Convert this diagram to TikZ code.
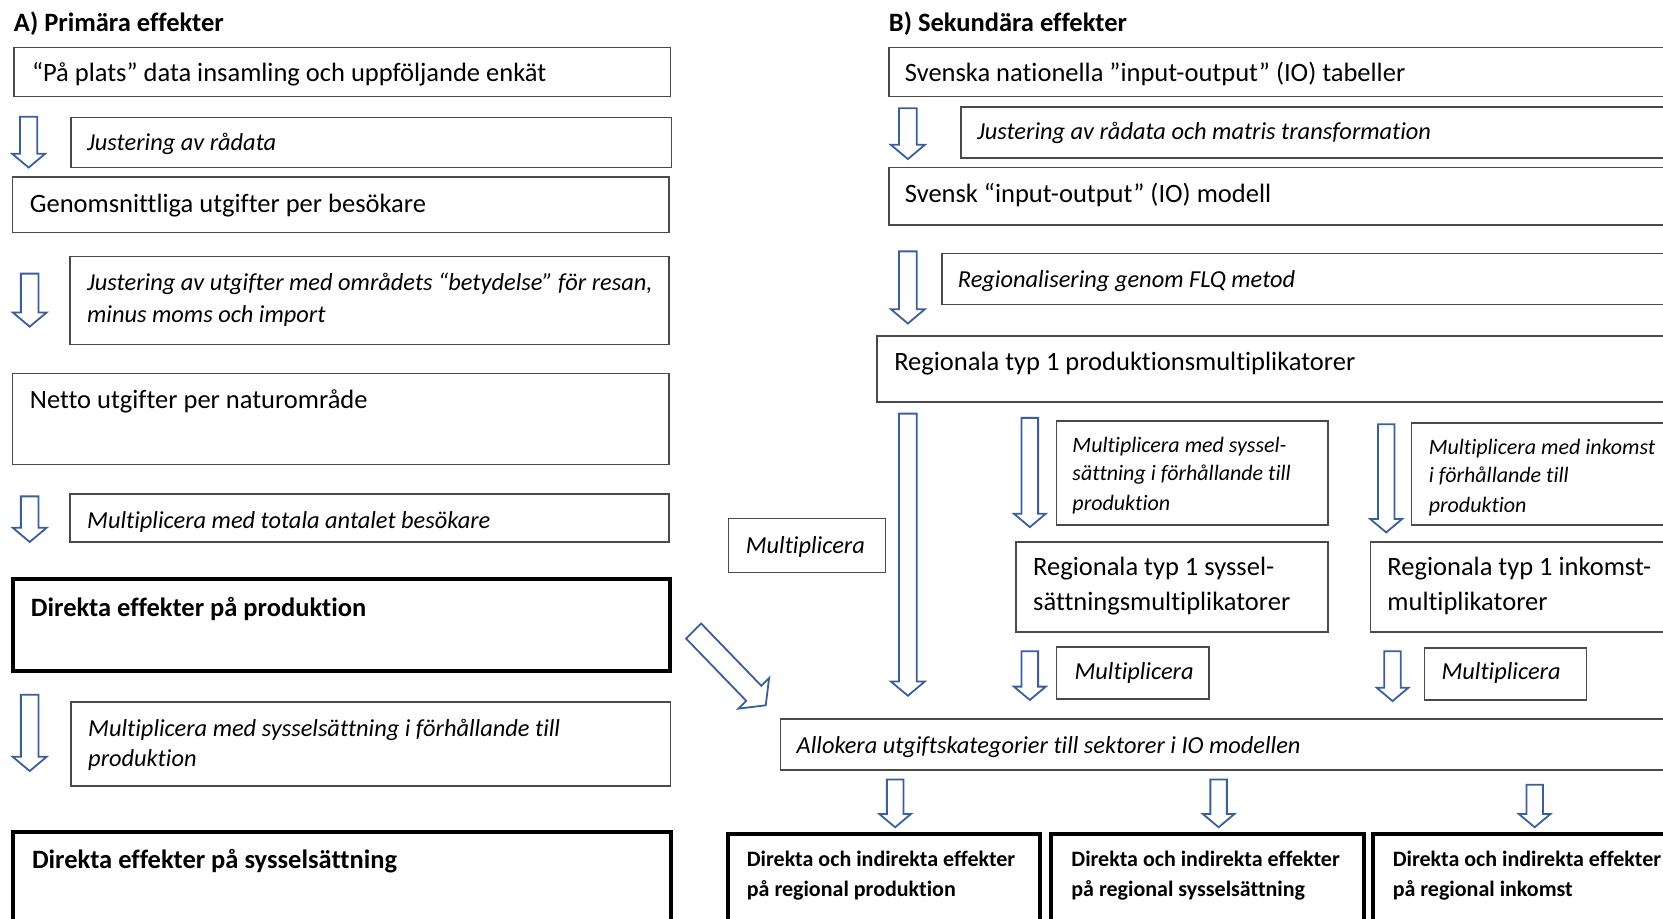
\documentclass[tikz,border=0pt]{standalone}
\usepackage{fontspec}
\setmainfont{Carlito}[Ligatures=NoCommon]
\usetikzlibrary{fit}
\definecolor{boxgray}{HTML}{4A4A4A}
\definecolor{arrowblue}{HTML}{3B5E9C}
\newcommand\fR{\fontsize{26.5}{32}\selectfont}
\newcommand\fI{\fontsize{24.4}{30}\selectfont\itshape}
\newcommand\fSI{\fontsize{22}{27}\selectfont\itshape}
\newcommand\fB{\fontsize{26.5}{32}\selectfont\bfseries}
\newcommand\fSB{\fontsize{22}{27}\selectfont\bfseries}
\newcommand\dnarrow[4]{%
 \pgfmathsetmacro\arHW{#4/2}\pgfmathsetmacro\arSW{#4*0.26}\pgfmathsetmacro\arHY{#3-#4*0.42}%
 \draw[blockarrow] ({#1-\arSW},#2) -- ({#1+\arSW},#2) -- ({#1+\arSW},\arHY) -- ({#1+\arHW},\arHY) -- (#1,#3) -- ({#1-\arHW},\arHY) -- ({#1-\arSW},\arHY) -- cycle;}
\tikzset{
 box/.style={draw=boxgray, line width=1.5pt, inner sep=0pt},
 tbox/.style={draw=black, line width=4pt, inner sep=0pt},
 txt/.style={inner sep=0pt, anchor=base west},
 blockarrow/.style={draw=arrowblue, line width=1.8pt, fill=white, line join=miter},
}
\begin{document}
\begin{tikzpicture}[x=1.0606pt, y=-1.0606pt]
\useasboundingbox (0,0) rectangle (1568,866);
\clip (0,0) rectangle (1568,866);
\fill[white] (0,0) rectangle (1568,866);

% ---------- A) Primary ----------
\node[txt] (tA) at (13,30) {\fB A) Primära effekter};

\node[box, fit={(13,45) (632,91)}] (L1) {};
\node[txt] (tL1) at (30,77) {\fR “På plats” data insamling och uppföljande enkät};
\dnarrow{27}{110}{158}{31}
\node[box, fit={(67,111) (633,158)}] (L2) {};
\node[txt] (tL2) at (82,142) {\fI Justering av rådata};
\node[box, fit={(12,167) (631,219)}] (L3) {};
\node[txt] (tL3) at (28,200) {\fR Genomsnittliga utgifter per besökare};
\dnarrow{28}{258}{308}{32}
\node[box, fit={(66,242) (631,325)}] (L4) {};
\node[txt] (tL4a) at (82,274) {\fI Justering av utgifter med områdets “betydelse” för resan,};
\node[txt] (tL4b) at (82,304) {\fI minus moms och import};
\node[box, fit={(12,352) (631,438)}] (L5) {};
\node[txt] (tL5) at (28,385) {\fR Netto utgifter per naturområde};
\dnarrow{28}{468}{511}{32}
\node[box, fit={(66,466) (631,511)}] (L6) {};
\node[txt] (tL6) at (82,498) {\fI Multiplicera med totala antalet besökare};
\node[tbox, fit={(12,546) (632,633)}] (L7) {};
\node[txt] (tL7) at (29,581) {\fB Direkta effekter på produktion};
\dnarrow{28}{655}{727}{32}
\node[box, fit={(67,662) (632,741)}] (L8) {};
\node[txt] (tL8a) at (83,694) {\fI Multiplicera med sysselsättning i förhållande till};
\node[txt] (tL8b) at (83,723) {\fI produktion};
\node[tbox, fit={(12,784) (633,900)}] (L9) {};
\node[txt] (tL9) at (30,819) {\fB Direkta effekter på sysselsättning};

% diagonal arrow
\draw[blockarrow] (661.1,587.9) -- (717.8,646.6) -- (725.2,639.2) -- (722,665) -- (696.2,668.2) -- (703.6,660.8) -- (646.9,602.1) -- cycle;

% ---------- B) Secondary ----------
\node[txt] (tB) at (838,30) {\fB B) Sekundära effekter};

\node[box, fit={(838,45) (1600,91)}] (R1) {};
\node[txt] (tR1) at (853,77) {\fR Svenska nationella ”input-output” (IO) tabeller};
\dnarrow{856}{102}{150}{32}
\node[box, fit={(906,101) (1600,149)}] (R2) {};
\node[txt] (tR2) at (921,132) {\fI Justering av rådata och matris transformation};
\node[box, fit={(838,158) (1600,212)}] (R3) {};
\node[txt] (tR3) at (853,191) {\fR Svensk “input-output” (IO) modell};
\dnarrow{856}{237}{305}{32}
\node[box, fit={(888,239) (1600,287)}] (R4) {};
\node[txt] (tR4) at (903,271) {\fI Regionalisering genom FLQ metod};
\node[box, fit={(827,317) (1600,379)}] (R5) {};
\node[txt] (tR5) at (843,349) {\fR Regionala typ 1 produktionsmultiplikatorer};

\dnarrow{856}{390}{656}{32}
\node[box, fit={(687,489) (835,540)}] (M0) {};
\node[txt] (tM0) at (703,522) {\fI Multiplicera};

\dnarrow{971}{394}{497}{30}
\node[box, fit={(996,397) (1252,495)}] (S1) {};
\node[txt] (tS1a) at (1011,427) {\fSI Multiplicera med syssel-};
\node[txt] (tS1b) at (1011,453) {\fSI sättning i förhållande till};
\node[txt] (tS1c) at (1011,481) {\fSI produktion};

\dnarrow{1307}{400}{502}{30}
\node[box, fit={(1331,399) (1600,495)}] (I1) {};
\node[txt] (tI1a) at (1347,429) {\fSI Multiplicera med inkomst};
\node[txt] (tI1b) at (1347,455) {\fSI i förhållande till};
\node[txt] (tI1c) at (1347,483) {\fSI produktion};

\node[box, fit={(958,511) (1252,596)}] (S2) {};
\node[txt] (tS2a) at (974,543) {\fR Regionala typ 1 syssel-};
\node[txt] (tS2b) at (974,576) {\fR sättningsmultiplikatorer};
\node[box, fit={(1292,511) (1600,596)}] (I2) {};
\node[txt] (tI2a) at (1308,543) {\fR Regionala typ 1 inkomst-};
\node[txt] (tI2b) at (1308,576) {\fR multiplikatorer};

\dnarrow{971}{614}{660}{30}
\node[box, fit={(996,610) (1140,659)}] (M1) {};
\node[txt] (tM1) at (1013,641) {\fI Multiplicera};
\dnarrow{1313}{614}{661}{30}
\node[box, fit={(1343,611) (1496,660)}] (M2) {};
\node[txt] (tM2) at (1359,641) {\fI Multiplicera};

\node[box, fit={(736,678) (1600,726)}] (AL) {};
\node[txt] (tAL) at (751,710) {\fI Allokera utgiftskategorier till sektorer i IO modellen};

\dnarrow{844}{735}{780}{30}
\dnarrow{1149}{735}{780}{30}
\dnarrow{1447}{740}{780}{30}

\node[tbox, fit={(686,786) (981,900)}] (D1) {};
\node[txt] (tD1a) at (704,817) {\fSB Direkta och indirekta effekter};
\node[txt] (tD1b) at (704,845) {\fSB på regional produktion};
\node[tbox, fit={(991,786) (1286,900)}] (D2) {};
\node[txt] (tD2a) at (1010,817) {\fSB Direkta och indirekta effekter};
\node[txt] (tD2b) at (1010,845) {\fSB på regional sysselsättning};
\node[tbox, fit={(1295,786) (1600,900)}] (D3) {};
\node[txt] (tD3a) at (1313,817) {\fSB Direkta och indirekta effekter};
\node[txt] (tD3b) at (1313,845) {\fSB på regional inkomst};
\end{tikzpicture}
\end{document}
